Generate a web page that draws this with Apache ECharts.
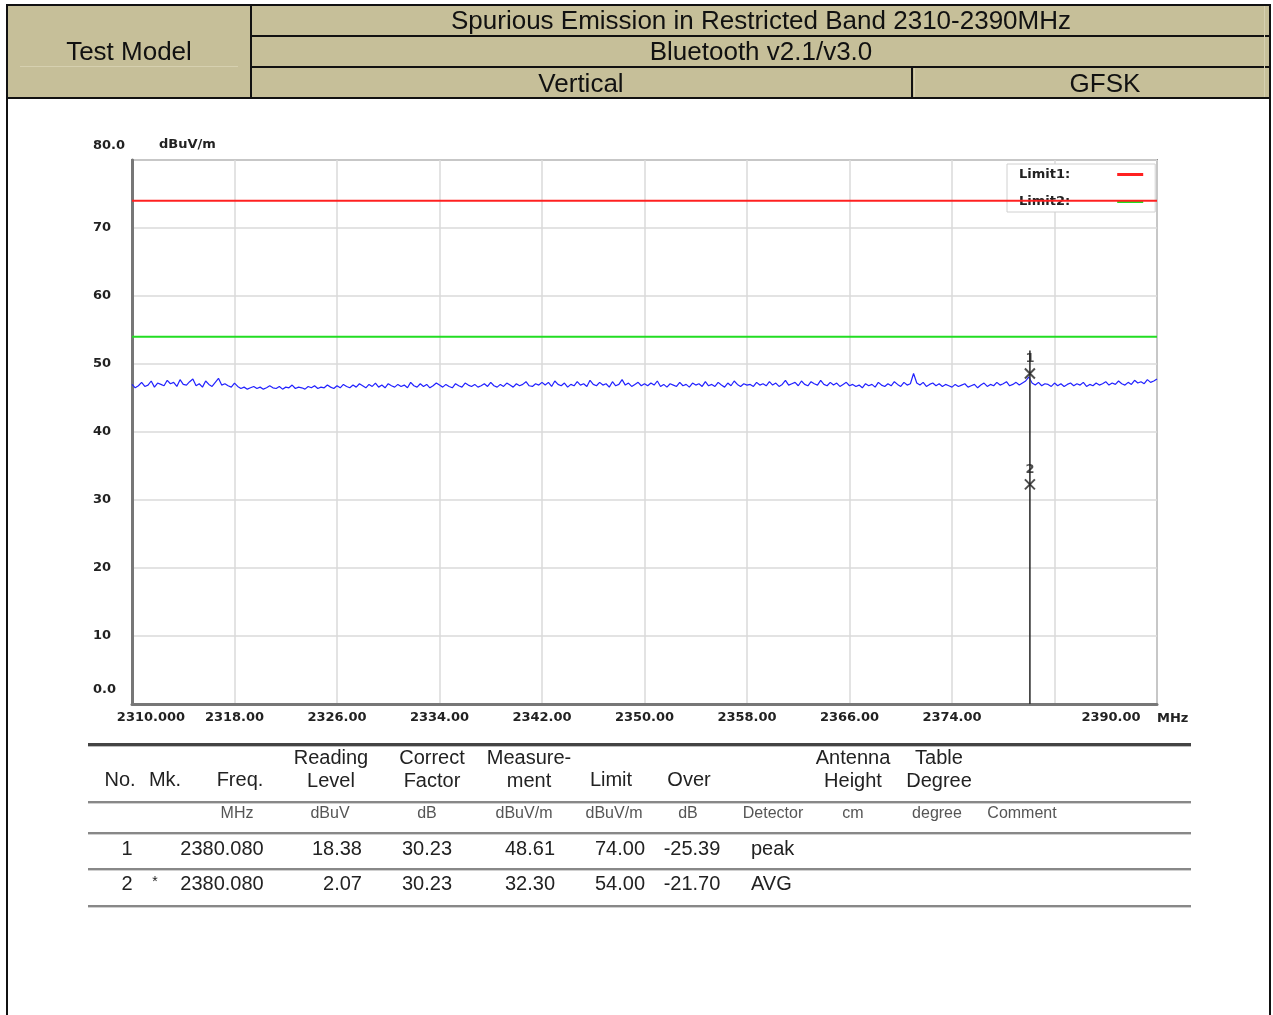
<!DOCTYPE html>
<html>
<head>
<meta charset="utf-8">
<script src="https://cdn.jsdelivr.net/npm/echarts@6/dist/echarts.min.js"></script>
<style>
  html, body { margin: 0; padding: 0; background: #fff; }
  #page { position: relative; width: 1273px; height: 1015px; overflow: hidden; background: #fff; font-family: "Liberation Sans", Arial, sans-serif; }
  #chart { position: absolute; left: 0; top: 0; width: 1273px; height: 1015px; z-index: 2; }
  .abs { position: absolute; white-space: nowrap; z-index: 3; }
  .ln { position: absolute; z-index: 1; }
</style>
</head>
<body>
<div id="page">
  <div id="chart"></div>
</div>
<script>
// ---------------- data ----------------
const headerTitle = 'Spurious Emission in Restricted Band 2310-2390MHz';
const headerModel = 'Bluetooth v2.1/v3.0';
const headerLeft = 'Test Model';
const headerPolar = 'Vertical';
const headerMod = 'GFSK';

const freqMin = 2310, freqMax = 2390, freqStep = 8;
const levelMin = 0, levelMax = 80, levelStep = 10;
const yUnit = 'dBuV/m';
const xUnit = 'MHz';

const traceStartMHz = 2310, traceStepMHz = 0.25;
const traceLevels = [
  47.0,
  46.5, 46.8, 47.3, 46.7, 46.9, 47.5, 46.6, 47.2, 47.0, 46.8, 47.6, 47.1, 47.3, 46.7, 47.7, 47.0,
  46.9, 47.4, 47.8, 46.8, 47.1, 46.6, 47.5, 47.0, 46.7, 47.3, 47.9, 46.9, 47.1, 46.8, 46.6, 47.2,
  46.7, 46.4, 46.6, 46.3, 46.5, 46.7, 46.4, 46.6, 46.3, 46.5, 46.8, 46.5, 46.4, 46.7, 46.3, 46.6,
  46.5, 46.9, 46.4, 46.6, 46.5, 46.3, 46.7, 46.5, 46.8, 46.4, 46.6, 46.5, 46.9, 46.6, 46.4, 46.8,
  46.5, 47.0, 46.7, 46.5, 46.9, 46.6, 47.1, 46.8, 46.5, 47.0, 46.7, 47.2, 46.6, 46.9, 46.5, 47.1,
  46.8, 46.6, 47.0, 46.7, 46.9, 46.5, 47.3, 46.8, 46.6, 47.1, 46.7, 47.0, 46.5, 46.8, 47.2, 46.9,
  46.6, 47.0, 46.7, 46.5, 47.1, 46.8, 46.6, 47.2, 46.9, 46.7, 47.0, 46.6, 46.8, 47.1, 46.7, 47.3,
  46.8, 46.6, 47.0, 46.7, 47.2, 46.9, 46.6, 47.1, 46.8, 47.0, 47.4, 46.8, 46.7, 47.1, 46.9, 47.3,
  46.9, 47.3, 46.7, 47.5, 47.0, 46.8, 47.2, 46.6, 47.0, 46.8, 47.4, 46.9, 47.1, 46.7, 47.6, 47.0,
  46.8, 47.3, 46.9, 47.1, 46.6, 47.4, 46.8, 47.0, 47.7, 46.9, 47.2, 46.7, 47.0, 47.3, 46.8, 47.1,
  46.8, 47.2, 46.9, 47.5, 46.7, 47.0, 46.6, 47.1, 46.9, 46.7, 47.3, 46.8, 47.0, 46.6, 47.2, 46.9,
  47.1, 46.7, 47.4, 46.8, 47.0, 46.7, 47.3, 46.9, 46.6, 47.2, 46.8, 47.5, 47.0, 46.7, 47.1, 46.9,
  47.0, 46.7, 47.3, 46.9, 47.1, 46.8, 47.4, 46.9, 47.2, 46.7, 47.0, 47.6, 46.9, 47.1, 47.3, 46.8,
  47.5, 47.0, 46.8, 47.4, 47.1, 46.9, 47.6, 47.0, 46.8, 47.3, 46.9, 47.2, 46.7, 47.0, 47.3, 46.8,
  47.0, 46.7, 46.9, 46.5, 47.1, 46.8, 47.0, 46.6, 47.3, 46.9, 46.7, 47.1, 46.8, 47.4, 47.0, 46.7,
  47.3, 46.9, 47.1, 48.6, 47.2, 46.9, 47.3, 46.7, 47.0, 47.2, 46.8, 47.1, 46.7, 47.0, 46.8, 46.6,
  47.0, 46.7, 46.9, 47.1, 46.6, 46.8, 47.0, 46.5, 46.9, 47.2, 46.7, 47.0, 46.8, 47.3, 46.9, 47.1,
  47.4, 46.8, 47.0, 47.3, 46.9, 47.2, 47.5, 48.1, 47.2, 46.9, 47.3, 46.8, 47.1, 47.0, 46.7, 47.2,
  46.8, 47.1, 46.7, 47.0, 47.2, 46.8, 47.1, 46.9, 47.3, 46.7, 47.0, 46.8, 47.2, 46.9, 47.1, 47.4,
  46.9, 47.2, 47.0, 47.5, 47.1, 46.9, 47.3, 47.0, 47.6, 47.2, 47.4, 47.1, 47.7, 47.3, 47.5, 47.8
];
const limitNames = ['Limit1', 'Limit2'];
const limitLevels = [74, 54];

const markerNo = ['1', '2'];
const markerMk = ['', '*'];
const markerFreq = [2380.080, 2380.080];
const markerReading = [18.38, 2.07];
const markerCorrect = [30.23, 30.23];
const markerMeasure = [48.61, 32.30];
const markerLimit = [74.00, 54.00];
const markerOver = [-25.39, -21.70];
const markerDetector = ['peak', 'AVG'];
const markerLineTop = 52;

const tableHead = [['No.'], ['Mk.'], ['Freq.'], ['Reading', 'Level'], ['Correct', 'Factor'], ['Measure-', 'ment'], ['Limit'], ['Over'], ['Antenna', 'Height'], ['Table', 'Degree']];
const tableUnits = ['MHz', 'dBuV', 'dB', 'dBuV/m', 'dBuV/m', 'dB', 'Detector', 'cm', 'degree', 'Comment'];

// ---------------- page layout (HTML) ----------------
const page = document.getElementById('page');
function box(x, y, w, h, style) {
  const d = document.createElement('div');
  d.className = 'ln';
  d.style.left = x + 'px'; d.style.top = y + 'px';
  d.style.width = w + 'px'; d.style.height = h + 'px';
  Object.assign(d.style, style || {});
  page.appendChild(d);
  return d;
}
function txt(s, x, y, align, size, color, extra) {
  const d = document.createElement('div');
  d.className = 'abs';
  d.textContent = s;
  d.style.fontSize = size + 'px';
  d.style.lineHeight = size + 'px';
  d.style.color = color;
  d.style.top = (y - size / 2) + 'px';
  if (align === 'center') { d.style.left = x + 'px'; d.style.transform = 'translateX(-50%)'; }
  else if (align === 'right') { d.style.right = (1273 - x) + 'px'; }
  else { d.style.left = x + 'px'; }
  Object.assign(d.style, extra || {});
  page.appendChild(d);
}
// header block
const tan = '#c6bf99';
box(7, 5, 1263, 93, { background: tan });
box(6, 4, 1265, 2, { background: '#111' });
box(251, 35, 1020, 2, { background: '#111' });
box(251, 66, 1020, 2, { background: '#111' });
box(6, 97, 1265, 2, { background: '#111' });
box(6, 4, 2, 1011, { background: '#111' });
box(250, 4, 2, 94, { background: '#111' });
box(911, 67, 2, 31, { background: '#111' });
box(1269, 4, 2, 1011, { background: '#111' });
box(20, 66, 218, 1, { background: '#d6d0b0' });
box(1264, 6, 1, 91, { background: '#d6d0b0' });
box(914, 68, 1, 29, { background: '#d6d0b0' });
txt(headerLeft, 129, 51, 'center', 26, '#111');
txt(headerTitle, 761, 20, 'center', 26, '#111');
txt(headerModel, 761, 51, 'center', 26, '#111');
txt(headerPolar, 581, 83, 'center', 26, '#111');
txt(headerMod, 1105, 83, 'center', 26, '#111');

// result table lines
box(88, 743, 1103, 3, { background: '#444' });
box(88, 746, 1103, 1, { background: '#bbb' });
[801, 832, 868, 905].forEach(y => {
  box(88, y, 1103, 2, { background: '#888' });
  box(88, y + 2, 1103, 1, { background: '#d0d0d0' });
});
// table header
const headX = [120, 165, 240, 331, 432, 529, 611, 689, 853, 939];
tableHead.forEach((lines, i) => {
  if (lines.length === 1) txt(lines[0], headX[i], 779, 'center', 20, '#222');
  else { txt(lines[0], headX[i], 757, 'center', 20, '#222'); txt(lines[1], headX[i], 780, 'center', 20, '#222'); }
});
const unitX = [237, 330, 427, 524, 614, 688, 773, 853, 937, 1022];
tableUnits.forEach((u, i) => txt(u, unitX[i], 813, 'center', 16, '#555'));
const rowY = [848, 883];
markerNo.forEach((n, r) => {
  const y = rowY[r];
  txt(n, 127, y, 'center', 20, '#222');
  txt(markerMk[r], 155, y - 2, 'center', 14, '#222');
  txt(markerFreq[r].toFixed(3), 222, y, 'center', 20, '#222');
  txt(markerReading[r].toFixed(2), 362, y, 'right', 20, '#222');
  txt(markerCorrect[r].toFixed(2), 427, y, 'center', 20, '#222');
  txt(markerMeasure[r].toFixed(2), 530, y, 'center', 20, '#222');
  txt(markerLimit[r].toFixed(2), 620, y, 'center', 20, '#222');
  txt(markerOver[r].toFixed(2), 692, y, 'center', 20, '#222');
  txt(markerDetector[r], 751, y, 'left', 20, '#222');
});

// ---------------- chart ----------------
const chart = echarts.init(document.getElementById('chart'), null, { renderer: 'canvas' });
const axisFont = { fontFamily: 'DejaVu Sans', fontWeight: 'bold', fontSize: 13, color: '#222' };
const traceData = traceLevels.map((v, i) => [traceStartMHz + i * traceStepMHz, v]);
const option = {
  backgroundColor: 'transparent',
  animation: false,
  grid: { left: 132, top: 160, width: 1025, height: 544, show: true, borderColor: '#909090', borderWidth: 2, containLabel: false },
  legend: {
    data: limitNames,
    orient: 'vertical',
    left: 1007, top: 164,
    align: 'right',
    icon: 'rect',
    itemWidth: 26, itemHeight: 3,
    itemGap: 14,
    padding: [4, 12, 4, 12],
    backgroundColor: '#fff',
    borderColor: '#d0d0d0', borderWidth: 1,
    z: 1,
    formatter: n => '{a|' + n + ':}',
    textStyle: {
      fontFamily: 'DejaVu Sans', fontWeight: 'bold', fontSize: 13, color: '#222',
      rich: { a: { fontFamily: 'DejaVu Sans', fontWeight: 'bold', fontSize: 13, color: '#222', padding: [0, 42, 0, 0] } }
    }
  },
  xAxis: {
    type: 'value', min: freqMin, max: freqMax, interval: freqStep,
    name: xUnit, nameLocation: 'end', nameGap: 0,
    nameTextStyle: Object.assign({}, axisFont, { align: 'left', verticalAlign: 'top', padding: [8, 0, 0, 0] }),
    axisLine: { show: true, lineStyle: { color: '#777', width: 3 } },
    axisTick: { show: false },
    splitLine: { show: true, lineStyle: { color: '#dadada', width: 1.5 } },
    axisLabel: {
      show: true, margin: 7, showMinLabel: true, showMaxLabel: true, hideOverlap: false,
      fontFamily: 'DejaVu Sans', fontWeight: 'bold', fontSize: 13, color: '#222',
      formatter: v => {
        if (v === freqMin) return '{first|' + v.toFixed(3) + '}';
        if (v === freqMax) return '{last|' + v.toFixed(2) + '}';
        if (v === 2382) return '';
        return v.toFixed(2);
      },
      rich: {
        first: Object.assign({}, axisFont, { padding: [0, 0, 0, 38] }),
        last: Object.assign({}, axisFont, { padding: [0, 92, 0, 0] })
      }
    }
  },
  yAxis: {
    type: 'value', min: levelMin, max: levelMax, interval: levelStep,
    name: yUnit, nameLocation: 'end', nameGap: 15,
    nameTextStyle: Object.assign({}, axisFont, { align: 'left', verticalAlign: 'middle', padding: [0, 0, 0, 27] }),
    axisLine: { show: true, lineStyle: { color: '#777', width: 3 } },
    axisTick: { show: false },
    splitLine: { show: true, lineStyle: { color: '#dadada', width: 1.5 } },
    axisLabel: {
      show: true, align: 'left', margin: 39, showMinLabel: true, showMaxLabel: true,
      fontFamily: 'DejaVu Sans', fontWeight: 'bold', fontSize: 13, color: '#222',
      formatter: v => (v === levelMin || v === levelMax) ? '{e|' + v.toFixed(1) + '}' : String(v),
      rich: { e: Object.assign({}, axisFont, { padding: [0, 0, 28, 0] }) }
    }
  },
  series: [
    {
      name: 'trace', type: 'line', data: traceData, showSymbol: false, symbol: 'none',
      lineStyle: { color: '#2222ff', width: 1.2 }, z: 3
    },
    {
      name: limitNames[0], type: 'line', data: [[freqMin, limitLevels[0]], [freqMax, limitLevels[0]]],
      showSymbol: false, symbol: 'none', itemStyle: { color: '#ff2020' }, lineStyle: { color: '#ff2020', width: 2 }, z: 4
    },
    {
      name: limitNames[1], type: 'line', data: [[freqMin, limitLevels[1]], [freqMax, limitLevels[1]]],
      showSymbol: false, symbol: 'none', itemStyle: { color: '#22dd22' }, lineStyle: { color: '#22dd22', width: 2 }, z: 4
    },
    {
      name: 'markerLine', type: 'line', data: [[markerFreq[0], levelMin], [markerFreq[0], markerLineTop]],
      showSymbol: false, symbol: 'none', lineStyle: { color: '#333', width: 1.6 }, z: 5
    },
    {
      name: 'markers', type: 'scatter',
      data: markerFreq.map((f, i) => [f, markerMeasure[i], markerNo[i]]),
      symbol: 'path://M0,0 L10,10 M10,0 L0,10', symbolSize: 10,
      itemStyle: { color: 'transparent', borderColor: '#222', borderWidth: 2 },
      label: { show: true, position: 'top', distance: 2, formatter: p => p.data[2], fontFamily: 'DejaVu Sans', fontWeight: 'bold', fontSize: 13, color: '#222' },
      z: 6
    }
  ]
};
chart.setOption(option);
</script>
</body>
</html>
